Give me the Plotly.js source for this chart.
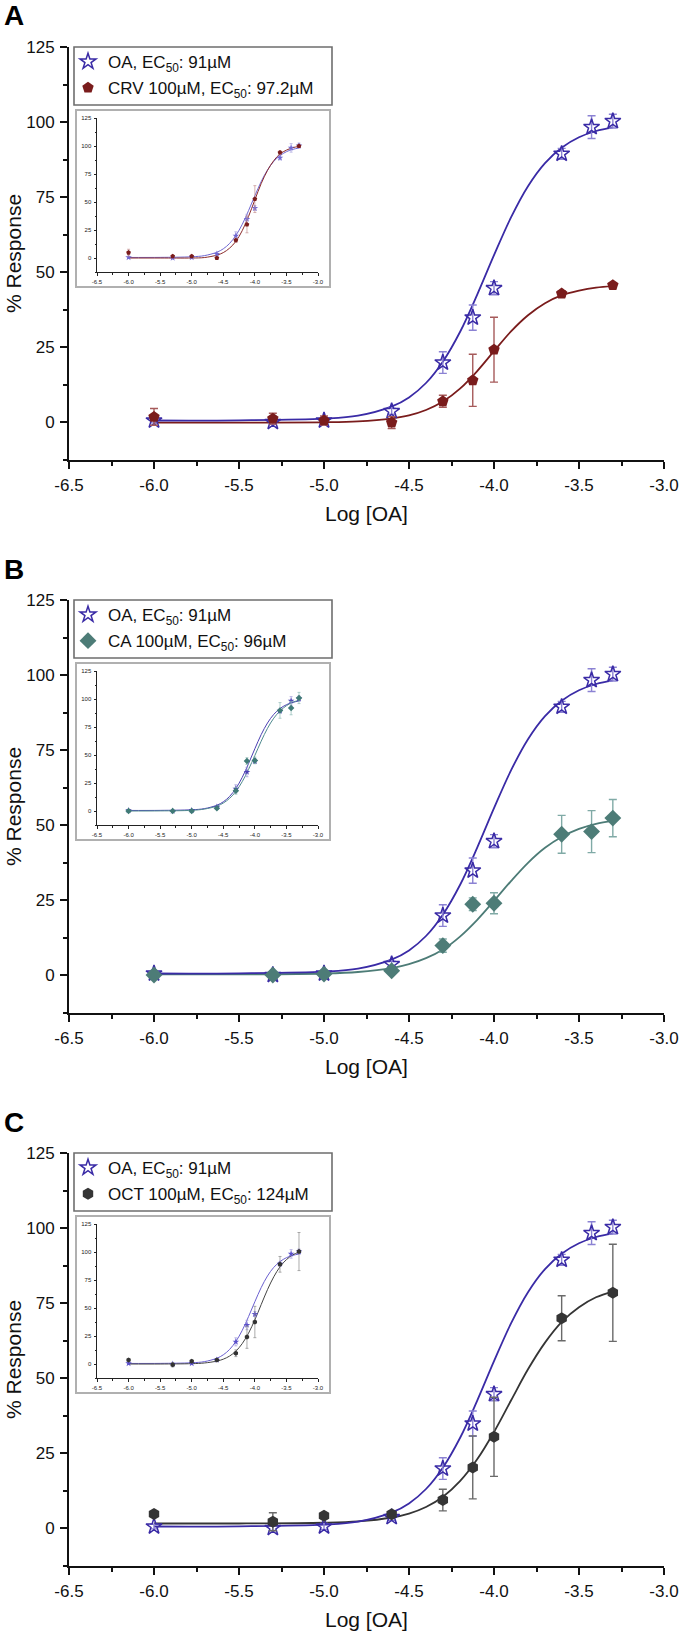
<!DOCTYPE html>
<html>
<head>
<meta charset="utf-8">
<script src="https://cdn.plot.ly/plotly-3.0.1.min.js"></script>
<style>
  html, body { margin: 0; padding: 0; background: #fff; }
  #chart { width: 680px; height: 1633px; }
</style>
</head>
<body>
<div id="chart"></div>
<script>
// ---------------- DATA ----------------
// Log concentration of OA tested
const logOA   = [-6.0, -5.301, -5.0, -4.602, -4.301, -4.125, -4.0, -3.602, -3.426, -3.301];
// OA alone (% response, mean and error)
const oaResp  = [0.5, 0.0, 0.5, 3.6, 19.8, 34.8, 44.6, 89.4, 98.3, 100.3];
const oaErr   = [0.8, 0.8, 1.0, 1.0, 3.6, 4.2, 2.2, 1.8, 3.8, 2.3];

// OA + CRV 100 µM
const crvX    = [-6.0, -5.301, -5.0, -4.602, -4.301, -4.125, -4.0, -3.602, -3.301];
const crvResp = [1.7, 1.1, 0.5, -0.2, 6.9, 13.9, 24.1, 42.8, 45.6];
const crvErr  = [2.8, 1.8, 1.5, 2.0, 2.0, 8.7, 10.8, 1.0, 0.8];

// OA + CA 100 µM
const caX     = [-6.0, -5.301, -5.0, -4.602, -4.301, -4.125, -4.0, -3.602, -3.426, -3.301];
const caResp  = [0.0, 0.0, 0.3, 1.4, 9.8, 23.6, 23.9, 46.9, 47.8, 52.3];
const caErr   = [0.5, 0.5, 0.5, 0.6, 2.2, 2.1, 3.5, 6.3, 7.0, 6.2];

// OA + OCT 100 µM
const octX    = [-6.0, -5.301, -5.0, -4.602, -4.301, -4.125, -4.0, -3.602, -3.301];
const octResp = [4.7, 2.1, 4.1, 4.6, 9.3, 20.2, 30.4, 69.9, 78.4];
const octErr  = [0.6, 3.0, 0.6, 0.8, 3.6, 10.5, 13.2, 7.5, 16.2];

// Fitted curves, values
const fitX    = [-6.0, -5.5, -5.0, -4.8, -4.6, -4.5, -4.4, -4.3, -4.2, -4.1, -4.0, -3.9, -3.8, -3.7, -3.6, -3.5, -3.4, -3.3];
const oaFit   = [0.5, 0.55, 1.1, 2.1, 5.2, 8.2, 13.0, 20.2, 30.0, 42.3, 55.6, 68.2, 78.6, 86.3, 91.5, 94.9, 97.0, 98.2];
const crvFit  = [-0.2, -0.2, -0.1, 0.2, 1.2, 2.2, 4.0, 6.8, 11.1, 16.9, 23.6, 30.2, 35.6, 39.6, 42.3, 43.8, 44.8, 45.3];
const caFit   = [0.2, 0.2, 0.5, 1.0, 2.3, 3.6, 5.6, 8.5, 12.8, 18.3, 24.7, 31.3, 37.4, 42.4, 46.1, 48.7, 50.4, 51.4];
const octFit  = [1.5, 1.5, 1.75, 2.2, 3.5, 4.8, 7.0, 10.4, 15.6, 22.8, 32.0, 42.5, 52.9, 61.8, 68.8, 73.6, 76.9, 78.9];

// Insets: normalised responses
const crvNorm    = [4.8, 1.5, 1.5, 0.0, 15.8, 30.0, 52.6, 94.2, 100.0];
const crvNormErr = [3.0, 1.0, 1.0, 1.0, 2.0, 7.5, 12.0, 1.5, 1.0];
const crvNormFit = [0.0, 0.0, 0.0, 0.4, 2.6, 4.8, 8.8, 14.9, 24.4, 37.1, 51.9, 66.4, 78.2, 87.0, 93.0, 96.3, 98.5, 99.6];

const caNorm     = [0.0, 0.0, 0.0, 2.4, 18.0, 44.6, 45.2, 89.8, 91.9, 100.9];
const caNormErr  = [0.5, 0.5, 0.5, 1.0, 3.0, 3.0, 3.0, 7.0, 6.0, 5.0];
const caNormFit  = [0.0, 0.1, 0.6, 1.7, 4.4, 7.1, 11.3, 17.5, 26.2, 37.1, 49.6, 62.3, 73.8, 82.9, 89.4, 94.0, 97.1, 98.8];

const octNorm    = [3.6, -0.6, 2.4, 3.6, 9.6, 24.0, 37.5, 89.0, 100.4];
const octNormErr = [1.0, 2.0, 1.0, 1.0, 3.0, 10.0, 14.0, 7.0, 17.0];
const octNormFit = [0.0, 0.0, 0.3, 0.9, 2.6, 4.3, 7.1, 11.5, 18.2, 27.5, 39.4, 53.0, 66.4, 77.9, 86.9, 93.2, 97.4, 100.0];

// Tick labels
const xTickVals = [-6.5, -6.0, -5.5, -5.0, -4.5, -4.0, -3.5, -3.0];
const xTickText = ['-6.5', '-6.0', '-5.5', '-5.0', '-4.5', '-4.0', '-3.5', '-3.0'];
const yTickVals = [0, 25, 50, 75, 100, 125];
const yTickText = ['0', '25', '50', '75', '100', '125'];

// Texts
const panelLetters = ['A', 'B', 'C'];
const legendOA  = 'OA, EC<sub>50</sub>: 91µM';
const legendCRV = 'CRV 100µM, EC<sub>50</sub>: 97.2µM';
const legendCA  = 'CA 100µM, EC<sub>50</sub>: 96µM';
const legendOCT = 'OCT 100µM, EC<sub>50</sub>: 124µM';
const xTitle = 'Log [OA]';
const yTitle = '% Response';

// ---------------- LAYOUT HELPERS ----------------
const W = 680, H = 1633;
const FONT = 'Liberation Sans, Arial, Helvetica, sans-serif';
const px = v => v / W;
const py = v => 1 - v / H;

// top pixel (value 125) of each main panel
const panelTop = [47, 600, 1153];
const PLOT_H = 412.5;          // 125 -> -12.5
const MAIN_X0 = 69, MAIN_X1 = 664;
const INS_X0 = 97, INS_X1 = 318;

const colors = {
  oa: '#3a2ba6', oaErr: '#8b82d3',
  crv: '#7a1c1c', crvErr: '#a65a5a',
  ca: '#4d7c77', caErr: '#80aaa6',
  oct: '#353535', octErr: '#6a6a6a'
};

function mainXAxis(yAnchor, T) {
  return {
    domain: [px(MAIN_X0), px(MAIN_X1)], anchor: yAnchor,
    range: [-6.5, -3.0], fixedrange: true,
    showline: true, linecolor: '#111', linewidth: 2,
    ticks: 'outside', ticklen: 7, tickwidth: 2, tickcolor: '#111',
    tickmode: 'array', tickvals: xTickVals, ticktext: xTickText,
    tickfont: { family: FONT, size: 17, color: '#111' }, ticklabelstandoff: 2,
    minor: { tickmode: 'linear', tick0: -6.5, dtick: 0.25, ticks: 'outside', ticklen: 4, tickwidth: 2, tickcolor: '#111', showgrid: false },
    showgrid: false, zeroline: false
  };
}
function mainYAxis(xAnchor, T) {
  return {
    domain: [py(T + PLOT_H), py(T)], anchor: xAnchor,
    range: [-12.5, 125], fixedrange: true,
    showline: true, linecolor: '#111', linewidth: 2,
    ticks: 'outside', ticklen: 7, tickwidth: 2, tickcolor: '#111',
    tickmode: 'array', tickvals: yTickVals, ticktext: yTickText,
    tickfont: { family: FONT, size: 17, color: '#111' }, ticklabelstandoff: 2,
    minor: { tickmode: 'linear', tick0: -12.5, dtick: 12.5, ticks: 'outside', ticklen: 4, tickwidth: 2, tickcolor: '#111', showgrid: false },
    showgrid: false, zeroline: false
  };
}
function insetXAxis(yAnchor, T) {
  return {
    domain: [px(INS_X0), px(INS_X1)], anchor: yAnchor,
    range: [-6.5, -3.0], fixedrange: true,
    showline: true, linecolor: '#222', linewidth: 1,
    ticks: 'outside', ticklen: 2.5, tickwidth: 1, tickcolor: '#222',
    tickmode: 'array', tickvals: xTickVals, ticktext: xTickText,
    tickfont: { family: FONT, size: 6, color: '#222' }, ticklabelstandoff: 1,
    minor: { tickmode: 'linear', tick0: -6.5, dtick: 0.25, ticks: 'outside', ticklen: 1.5, tickwidth: 1, tickcolor: '#222', showgrid: false },
    showgrid: false, zeroline: false
  };
}
function insetYAxis(xAnchor, T) {
  return {
    domain: [py(T + 225), py(T + 71)], anchor: xAnchor,
    range: [-12.5, 125], fixedrange: true,
    showline: true, linecolor: '#222', linewidth: 1,
    ticks: 'outside', ticklen: 2.5, tickwidth: 1, tickcolor: '#222',
    tickmode: 'array', tickvals: yTickVals, ticktext: yTickText,
    tickfont: { family: FONT, size: 6, color: '#222' }, ticklabelstandoff: 1,
    minor: { tickmode: 'linear', tick0: -12.5, dtick: 12.5, ticks: 'outside', ticklen: 1.5, tickwidth: 1, tickcolor: '#222', showgrid: false },
    showgrid: false, zeroline: false
  };
}

// ---------------- TRACES ----------------
const traces = [];
function fitLine(xa, ya, x, y, color, width) {
  traces.push({ type: 'scatter', mode: 'lines', x: x, y: y, xaxis: xa, yaxis: ya,
    line: { color: color, width: width, shape: 'spline', smoothing: 1 },
    showlegend: false, hoverinfo: 'skip' });
}
function points(xa, ya, x, y, err, symbol, color, errColor, size, opts) {
  opts = opts || {};
  const open = symbol.indexOf('open') >= 0;
  const t = { type: 'scatter', mode: 'markers', x: x, y: y, xaxis: xa, yaxis: ya,
    marker: { symbol: symbol, size: size, color: color,
      line: { color: color, width: open ? (opts.lw || 1.5) : 0 } },
    error_y: { type: 'data', array: err, visible: true, color: errColor,
      thickness: opts.et || 1.4, width: opts.ew || 4 },
    showlegend: !!opts.name, name: opts.name || '', hoverinfo: 'skip' };
  if (opts.legend) { t.legend = opts.legend; t.legendgroup = opts.group; }
  traces.push(t);
}

// Panel A (main)
fitLine('x', 'y', fitX, crvFit, colors.crv, 1.8);
fitLine('x', 'y', fitX, oaFit, colors.oa, 1.8);
points('x', 'y', logOA, oaResp, oaErr, 'star-open', colors.oa, colors.oaErr, 12, { name: legendOA, legend: 'legend', group: 'a1' });
points('x', 'y', crvX, crvResp, crvErr, 'pentagon', colors.crv, colors.crvErr, 12, { name: legendCRV, legend: 'legend', group: 'a2' });
// Panel A inset
fitLine('x2', 'y2', fitX, oaFit, '#6f67d2', 1);
fitLine('x2', 'y2', fitX, crvNormFit, '#8a2a2a', 1);
points('x2', 'y2', logOA, oaResp, oaErr, 'star', '#6f67d2', '#a9a3e0', 5, { et: 0.7, ew: 1.5 });
points('x2', 'y2', crvX, crvNorm, crvNormErr, 'pentagon', '#7a1c1c', '#c49090', 5, { et: 0.7, ew: 1.5 });

// Panel B (main)
fitLine('x3', 'y3', fitX, caFit, colors.ca, 1.8);
fitLine('x3', 'y3', fitX, oaFit, colors.oa, 1.8);
points('x3', 'y3', logOA, oaResp, oaErr, 'star-open', colors.oa, colors.oaErr, 12, { name: legendOA, legend: 'legend2', group: 'b1' });
points('x3', 'y3', caX, caResp, caErr, 'diamond', colors.ca, colors.caErr, 13, { name: legendCA, legend: 'legend2', group: 'b2' });
// Panel B inset
fitLine('x4', 'y4', fitX, oaFit, '#4a3fb3', 1);
fitLine('x4', 'y4', fitX, caNormFit, '#4f8a8f', 1);
points('x4', 'y4', logOA, oaResp, oaErr, 'star', '#4a3fb3', '#9f98d8', 5, { et: 0.7, ew: 1.5 });
points('x4', 'y4', caX, caNorm, caNormErr, 'diamond', '#3f7a76', '#8fbab6', 5, { et: 0.7, ew: 1.5 });

// Panel C (main)
fitLine('x5', 'y5', fitX, octFit, colors.oct, 1.8);
fitLine('x5', 'y5', fitX, oaFit, colors.oa, 1.8);
points('x5', 'y5', logOA, oaResp, oaErr, 'star-open', colors.oa, colors.oaErr, 12, { name: legendOA, legend: 'legend3', group: 'c1' });
points('x5', 'y5', octX, octResp, octErr, 'hexagon', colors.oct, colors.octErr, 12, { name: legendOCT, legend: 'legend3', group: 'c2' });
// Panel C inset
fitLine('x6', 'y6', fitX, oaFit, '#6a5fd0', 1);
fitLine('x6', 'y6', fitX, octNormFit, '#444444', 1);
points('x6', 'y6', logOA, oaResp, oaErr, 'star', '#5a4fcb', '#a39ddc', 5, { et: 0.7, ew: 1.5 });
points('x6', 'y6', octX, octNorm, octNormErr, 'hexagon', '#333333', '#888888', 5, { et: 0.7, ew: 1.5 });

// ---------------- LAYOUT ----------------
const layout = {
  width: W, height: H,
  margin: { l: 0, r: 0, t: 0, b: 0 },
  paper_bgcolor: '#fff', plot_bgcolor: 'rgba(0,0,0,0)',
  font: { family: FONT, color: '#111' },
  shapes: [], annotations: []
};
const axisNames = [['xaxis', 'yaxis', 'x', 'y', 'xaxis2', 'yaxis2', 'x2', 'y2'],
                   ['xaxis3', 'yaxis3', 'x3', 'y3', 'xaxis4', 'yaxis4', 'x4', 'y4'],
                   ['xaxis5', 'yaxis5', 'x5', 'y5', 'xaxis6', 'yaxis6', 'x6', 'y6']];
const legendNames = ['legend', 'legend2', 'legend3'];

panelTop.forEach((T, i) => {
  const a = axisNames[i];
  layout[a[0]] = mainXAxis(a[3], T);
  layout[a[1]] = mainYAxis(a[2], T);
  layout[a[4]] = insetXAxis(a[7], T);
  layout[a[5]] = insetYAxis(a[6], T);

  // legend (text + symbols) inside a drawn frame
  layout[legendNames[i]] = {
    x: px(68), y: py(T - 3), xanchor: 'left', yanchor: 'top',
    bgcolor: 'rgba(0,0,0,0)', borderwidth: 0,
    font: { family: FONT, size: 17, color: '#111' },
    tracegroupgap: 1, itemclick: false, itemdoubleclick: false
  };
  layout.shapes.push({ type: 'rect', xref: 'paper', yref: 'paper',
    x0: px(74), x1: px(332), y0: py(T), y1: py(T + 58),
    line: { color: '#6e6e6e', width: 1.6 }, fillcolor: 'rgba(0,0,0,0)' });
  // inset frame
  layout.shapes.push({ type: 'rect', xref: 'paper', yref: 'paper',
    x0: px(76), x1: px(330), y0: py(T + 63), y1: py(T + 240),
    line: { color: '#b0b0b0', width: 2 }, fillcolor: 'rgba(0,0,0,0)' });

  // panel letter
  layout.annotations.push({ xref: 'paper', yref: 'paper', x: px(2), y: py(T - 31),
    xanchor: 'left', yanchor: 'middle', showarrow: false, text: '<b>' + panelLetters[i] + '</b>',
    font: { family: FONT, size: 28, color: '#000' } });
  // y title
  layout.annotations.push({ xref: 'paper', yref: 'paper', x: px(13), y: py(T + 207),
    xanchor: 'center', yanchor: 'middle', showarrow: false, textangle: -90, text: yTitle,
    font: { family: FONT, size: 21, color: '#111' } });
  // x title
  layout.annotations.push({ xref: 'paper', yref: 'paper', x: px(366), y: py(T + PLOT_H + 54),
    xanchor: 'center', yanchor: 'middle', showarrow: false, text: xTitle,
    font: { family: FONT, size: 21, color: '#111' } });
});

Plotly.newPlot('chart', traces, layout, { displayModeBar: false, staticPlot: true });
</script>
</body>
</html>
